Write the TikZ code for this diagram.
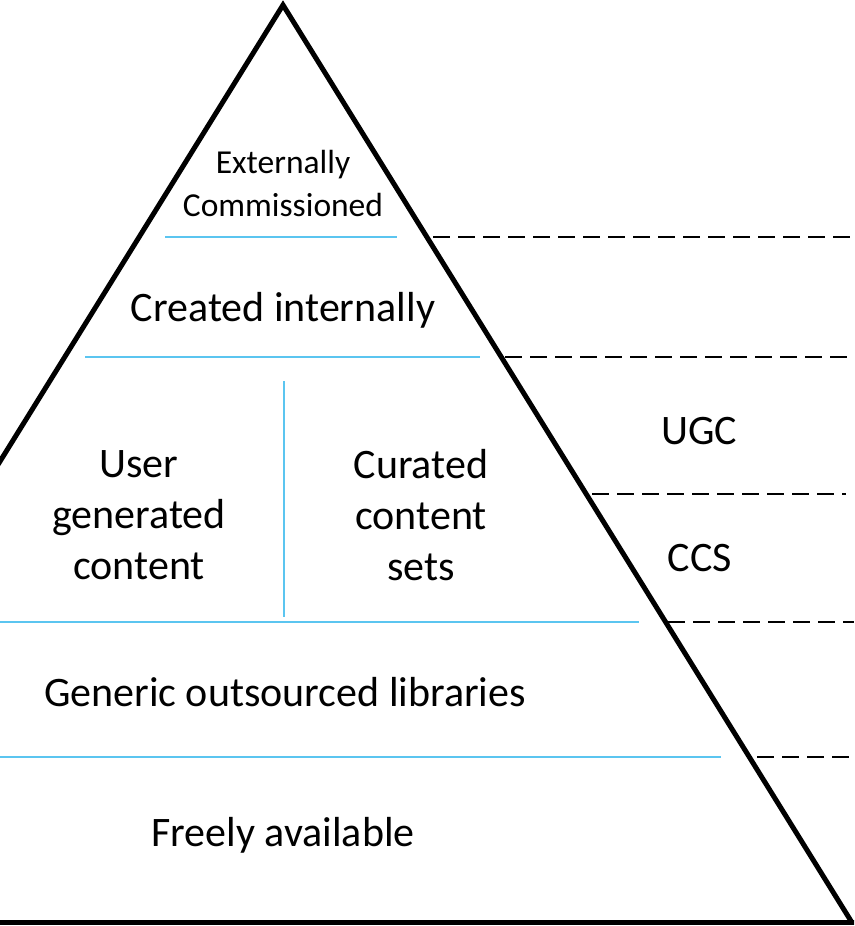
\documentclass[tikz,border=0pt]{standalone}
\usepackage{fontspec}
\setmainfont{Carlito}
\definecolor{divider}{RGB}{91,197,240}
\tikzset{
  edge/.style={line width=5pt, line join=miter},
  divline/.style={draw=divider, line width=2.2pt},
  guide/.style={draw=black, line width=2pt, dash pattern=on 17pt off 8pt},
  big/.style={font=\fontsize{42}{51}\selectfont, align=center, inner sep=0pt},
  small/.style={font=\fontsize{33.5}{43}\selectfont, align=center, inner sep=0pt}
}
\begin{document}
\begin{tikzpicture}[x=1pt,y=-1pt]
\useasboundingbox (0,0) rectangle (854,926);
\begin{scope}
\clip (0,0) rectangle (854,926);
% pyramid outline
\coordinate (apex) at (283,5);
\coordinate (bl) at (-285,921);
\coordinate (br) at (851,921);
\draw[edge] (bl) -- (apex) -- (br);
\draw[line width=5pt] (-10,922.5) -- (870,922.5);

% blue dividers inside the pyramid
\draw[divline] (165,237) -- (397,237);
\draw[divline] (85,357) -- (480,357);
\draw[divline] (284,381) -- (284,617);
\draw[divline] (0,622) -- (639,622);
\draw[divline] (0,757) -- (721,757);

% dashed guides to the right of the pyramid
\coordinate (g1) at (433,237);
\coordinate (g2) at (505,357);
\coordinate (g3) at (592,494);
\coordinate (g4) at (668,622);
\coordinate (g5) at (757,757);
\draw[guide] (g1) -- (854,237);
\draw[guide] (g2) -- (854,357);
\draw[guide] (g3) -- (846,494);
\draw[guide] (g4) -- (854,622);
\draw[guide] (g5) -- (854,757);
\end{scope}

% labels
\node[small] (ext) at (283,183) {Externally\\Commissioned};
\node[big] (cre) at (283,310) {Created internally};
\node[big] (ugc) at (139,515) {User\\generated\\content};
\node[big] (ccs) at (421,515) {Curated\\content\\sets};
\node[big] (ugcs) at (699,431) {UGC};
\node[big] (ccss) at (700,558) {CCS};
\node[big] (gen) at (285,692) {Generic outsourced libraries};
\node[big] (free) at (283,835) {Freely available};
\end{tikzpicture}
\end{document}
